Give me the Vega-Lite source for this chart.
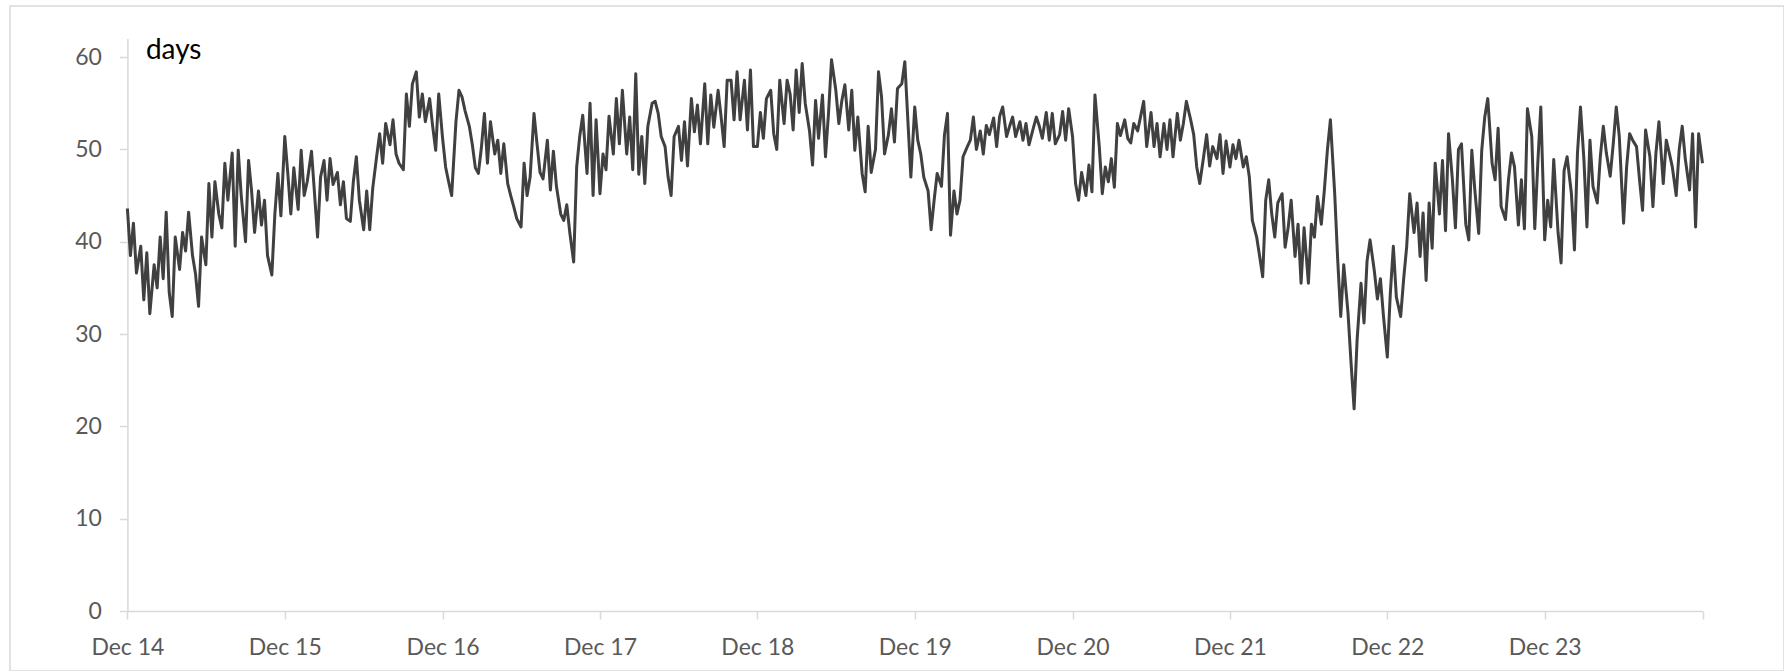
{
"$schema": "https://vega.github.io/schema/vega-lite/v6.json",
"width": 1774,
"height": 665,
"autosize": {"type": "none"},
"padding": {"left": 10, "top": 6, "right": 0, "bottom": 0},
"background": "white",
"config": {"view": {"stroke": "#d9d9d9", "strokeWidth": 1.5}, "font": "Lato"},
"data": {"values": [
{"d":"2014-12-01","v":43.6},{"d":"2014-12-08","v":38.5},{"d":"2014-12-15","v":42.0},{"d":"2014-12-22","v":36.6},
{"d":"2015-01-01","v":39.5},{"d":"2015-01-08","v":33.7},{"d":"2015-01-15","v":38.8},{"d":"2015-01-22","v":32.2},
{"d":"2015-02-01","v":37.5},{"d":"2015-02-08","v":35.0},{"d":"2015-02-15","v":40.5},{"d":"2015-02-22","v":36.0},
{"d":"2015-03-01","v":43.2},{"d":"2015-03-08","v":34.5},{"d":"2015-03-15","v":31.9},{"d":"2015-03-22","v":40.5},
{"d":"2015-04-01","v":37.0},{"d":"2015-04-08","v":41.0},{"d":"2015-04-15","v":39.0},{"d":"2015-04-22","v":43.2},
{"d":"2015-05-01","v":38.5},{"d":"2015-05-08","v":36.5},{"d":"2015-05-15","v":33.0},{"d":"2015-05-22","v":40.5},
{"d":"2015-06-01","v":37.5},{"d":"2015-06-08","v":46.3},{"d":"2015-06-15","v":40.5},{"d":"2015-06-22","v":46.5},
{"d":"2015-07-01","v":43.0},{"d":"2015-07-08","v":41.5},{"d":"2015-07-15","v":48.5},{"d":"2015-07-22","v":44.5},
{"d":"2015-08-01","v":49.6},{"d":"2015-08-08","v":39.5},{"d":"2015-08-15","v":49.9},{"d":"2015-08-22","v":45.0},
{"d":"2015-09-01","v":40.0},{"d":"2015-09-08","v":48.8},{"d":"2015-09-15","v":45.5},{"d":"2015-09-22","v":41.0},
{"d":"2015-10-01","v":45.5},{"d":"2015-10-08","v":41.8},{"d":"2015-10-15","v":44.5},{"d":"2015-10-22","v":38.5},
{"d":"2015-11-01","v":36.4},{"d":"2015-11-08","v":43.0},{"d":"2015-11-15","v":47.4},{"d":"2015-11-22","v":42.8},
{"d":"2015-12-01","v":51.4},{"d":"2015-12-08","v":47.4},{"d":"2015-12-15","v":43.0},{"d":"2015-12-22","v":48.0},
{"d":"2016-01-01","v":43.5},{"d":"2016-01-08","v":49.9},{"d":"2016-01-15","v":45.0},{"d":"2016-01-22","v":46.5},
{"d":"2016-02-01","v":49.8},{"d":"2016-02-08","v":45.2},{"d":"2016-02-15","v":40.5},{"d":"2016-02-22","v":47.0},
{"d":"2016-03-01","v":48.8},{"d":"2016-03-08","v":44.5},{"d":"2016-03-15","v":49.0},{"d":"2016-03-22","v":46.2},
{"d":"2016-04-01","v":47.5},{"d":"2016-04-08","v":44.0},{"d":"2016-04-15","v":46.5},{"d":"2016-04-22","v":42.5},
{"d":"2016-05-01","v":42.2},{"d":"2016-05-08","v":46.5},{"d":"2016-05-15","v":49.2},{"d":"2016-05-22","v":44.5},
{"d":"2016-06-01","v":41.3},{"d":"2016-06-08","v":45.5},{"d":"2016-06-15","v":41.3},{"d":"2016-06-22","v":45.8},
{"d":"2016-07-01","v":49.2},{"d":"2016-07-08","v":51.7},{"d":"2016-07-15","v":48.5},{"d":"2016-07-22","v":52.8},
{"d":"2016-08-01","v":50.5},{"d":"2016-08-08","v":53.2},{"d":"2016-08-15","v":49.5},{"d":"2016-08-22","v":48.5},
{"d":"2016-09-01","v":47.8},{"d":"2016-09-08","v":56.0},{"d":"2016-09-15","v":52.5},{"d":"2016-09-22","v":57.1},
{"d":"2016-10-01","v":58.4},{"d":"2016-10-08","v":53.5},{"d":"2016-10-15","v":56.0},{"d":"2016-10-22","v":53.0},
{"d":"2016-11-01","v":55.5},{"d":"2016-11-08","v":52.5},{"d":"2016-11-15","v":49.9},{"d":"2016-11-22","v":56.0},
{"d":"2016-12-01","v":51.2},{"d":"2016-12-08","v":48.1},{"d":"2016-12-15","v":46.5},{"d":"2016-12-22","v":45.0},
{"d":"2017-01-01","v":53.0},{"d":"2017-01-08","v":56.4},{"d":"2017-01-15","v":55.7},{"d":"2017-01-22","v":54.2},
{"d":"2017-02-01","v":52.5},{"d":"2017-02-08","v":50.5},{"d":"2017-02-15","v":48.0},{"d":"2017-02-22","v":47.4},
{"d":"2017-03-01","v":50.2},{"d":"2017-03-08","v":53.9},{"d":"2017-03-15","v":48.5},{"d":"2017-03-22","v":53.0},
{"d":"2017-04-01","v":49.5},{"d":"2017-04-08","v":51.0},{"d":"2017-04-15","v":47.4},{"d":"2017-04-22","v":50.6},
{"d":"2017-05-01","v":46.3},{"d":"2017-05-08","v":45.0},{"d":"2017-05-15","v":43.8},{"d":"2017-05-22","v":42.5},
{"d":"2017-06-01","v":41.6},{"d":"2017-06-08","v":48.5},{"d":"2017-06-15","v":45.0},{"d":"2017-06-22","v":47.0},
{"d":"2017-07-01","v":53.9},{"d":"2017-07-08","v":50.6},{"d":"2017-07-15","v":47.5},{"d":"2017-07-22","v":46.8},
{"d":"2017-08-01","v":51.0},{"d":"2017-08-08","v":45.6},{"d":"2017-08-15","v":49.8},{"d":"2017-08-22","v":46.0},
{"d":"2017-09-01","v":43.0},{"d":"2017-09-08","v":42.3},{"d":"2017-09-15","v":44.0},{"d":"2017-09-22","v":41.0},
{"d":"2017-10-01","v":37.8},{"d":"2017-10-08","v":48.1},{"d":"2017-10-15","v":51.4},{"d":"2017-10-22","v":53.7},
{"d":"2017-11-01","v":47.4},{"d":"2017-11-08","v":55.0},{"d":"2017-11-15","v":45.0},{"d":"2017-11-22","v":53.2},
{"d":"2017-12-01","v":45.2},{"d":"2017-12-08","v":49.5},{"d":"2017-12-15","v":47.8},{"d":"2017-12-22","v":53.6},
{"d":"2018-01-01","v":49.5},{"d":"2018-01-08","v":55.5},{"d":"2018-01-15","v":50.6},{"d":"2018-01-22","v":56.4},
{"d":"2018-02-01","v":49.5},{"d":"2018-02-08","v":53.5},{"d":"2018-02-15","v":47.8},{"d":"2018-02-22","v":58.2},
{"d":"2018-03-01","v":47.3},{"d":"2018-03-08","v":51.4},{"d":"2018-03-15","v":46.3},{"d":"2018-03-22","v":52.5},
{"d":"2018-04-01","v":55.0},{"d":"2018-04-08","v":55.2},{"d":"2018-04-15","v":53.9},{"d":"2018-04-22","v":51.4},
{"d":"2018-05-01","v":50.3},{"d":"2018-05-08","v":47.0},{"d":"2018-05-15","v":45.0},{"d":"2018-05-22","v":51.4},
{"d":"2018-06-01","v":52.5},{"d":"2018-06-08","v":48.8},{"d":"2018-06-15","v":53.0},{"d":"2018-06-22","v":48.2},
{"d":"2018-07-01","v":55.5},{"d":"2018-07-08","v":51.9},{"d":"2018-07-15","v":54.8},{"d":"2018-07-22","v":50.6},
{"d":"2018-08-01","v":57.1},{"d":"2018-08-08","v":50.6},{"d":"2018-08-15","v":55.9},{"d":"2018-08-22","v":52.4},
{"d":"2018-09-01","v":56.4},{"d":"2018-09-08","v":53.5},{"d":"2018-09-15","v":50.3},{"d":"2018-09-22","v":57.5},
{"d":"2018-10-01","v":57.5},{"d":"2018-10-08","v":53.2},{"d":"2018-10-15","v":58.4},{"d":"2018-10-22","v":53.2},
{"d":"2018-11-01","v":57.5},{"d":"2018-11-08","v":52.1},{"d":"2018-11-15","v":58.6},{"d":"2018-11-22","v":50.3},
{"d":"2018-12-01","v":50.3},{"d":"2018-12-08","v":54.0},{"d":"2018-12-15","v":51.2},{"d":"2018-12-22","v":55.5},
{"d":"2019-01-01","v":56.4},{"d":"2019-01-08","v":51.7},{"d":"2019-01-15","v":50.0},{"d":"2019-01-22","v":57.5},
{"d":"2019-02-01","v":52.8},{"d":"2019-02-08","v":57.5},{"d":"2019-02-15","v":56.0},{"d":"2019-02-22","v":52.1},
{"d":"2019-03-01","v":58.6},{"d":"2019-03-08","v":54.0},{"d":"2019-03-15","v":59.3},{"d":"2019-03-22","v":55.0},
{"d":"2019-04-01","v":52.0},{"d":"2019-04-08","v":48.3},{"d":"2019-04-15","v":55.3},{"d":"2019-04-22","v":51.2},
{"d":"2019-05-01","v":55.9},{"d":"2019-05-08","v":49.2},{"d":"2019-05-15","v":53.9},{"d":"2019-05-22","v":59.7},
{"d":"2019-06-01","v":56.4},{"d":"2019-06-08","v":52.8},{"d":"2019-06-15","v":55.3},{"d":"2019-06-22","v":57.0},
{"d":"2019-07-01","v":52.1},{"d":"2019-07-08","v":56.4},{"d":"2019-07-15","v":49.9},{"d":"2019-07-22","v":53.5},
{"d":"2019-08-01","v":47.4},{"d":"2019-08-08","v":45.4},{"d":"2019-08-15","v":52.5},{"d":"2019-08-22","v":47.5},
{"d":"2019-09-01","v":50.0},{"d":"2019-09-08","v":58.4},{"d":"2019-09-15","v":55.7},{"d":"2019-09-22","v":49.5},
{"d":"2019-10-01","v":51.6},{"d":"2019-10-08","v":54.4},{"d":"2019-10-15","v":50.8},{"d":"2019-10-22","v":56.6},
{"d":"2019-11-01","v":57.1},{"d":"2019-11-08","v":59.5},{"d":"2019-11-15","v":53.2},{"d":"2019-11-22","v":47.0},
{"d":"2019-12-01","v":54.6},{"d":"2019-12-08","v":51.0},{"d":"2019-12-15","v":49.5},{"d":"2019-12-22","v":47.0},
{"d":"2020-01-01","v":45.5},{"d":"2020-01-08","v":41.3},{"d":"2020-01-15","v":44.5},{"d":"2020-01-22","v":47.4},
{"d":"2020-02-01","v":46.0},{"d":"2020-02-08","v":51.6},{"d":"2020-02-15","v":53.9},{"d":"2020-02-22","v":40.7},
{"d":"2020-03-01","v":45.5},{"d":"2020-03-08","v":43.0},{"d":"2020-03-15","v":44.5},{"d":"2020-03-22","v":49.2},
{"d":"2020-04-01","v":50.3},{"d":"2020-04-08","v":51.0},{"d":"2020-04-15","v":53.5},{"d":"2020-04-22","v":50.0},
{"d":"2020-05-01","v":52.0},{"d":"2020-05-08","v":49.5},{"d":"2020-05-15","v":52.6},{"d":"2020-05-22","v":51.6},
{"d":"2020-06-01","v":53.4},{"d":"2020-06-08","v":50.3},{"d":"2020-06-15","v":53.6},{"d":"2020-06-22","v":54.6},
{"d":"2020-07-01","v":51.4},{"d":"2020-07-08","v":52.5},{"d":"2020-07-15","v":53.5},{"d":"2020-07-22","v":51.4},
{"d":"2020-08-01","v":53.0},{"d":"2020-08-08","v":51.0},{"d":"2020-08-15","v":52.8},{"d":"2020-08-22","v":50.5},
{"d":"2020-09-01","v":52.3},{"d":"2020-09-08","v":53.5},{"d":"2020-09-15","v":52.5},{"d":"2020-09-22","v":51.2},
{"d":"2020-10-01","v":54.0},{"d":"2020-10-08","v":51.0},{"d":"2020-10-15","v":53.9},{"d":"2020-10-22","v":50.6},
{"d":"2020-11-01","v":51.6},{"d":"2020-11-08","v":54.1},{"d":"2020-11-15","v":51.0},{"d":"2020-11-22","v":54.4},
{"d":"2020-12-01","v":51.4},{"d":"2020-12-08","v":46.3},{"d":"2020-12-15","v":44.5},{"d":"2020-12-22","v":47.5},
{"d":"2021-01-01","v":45.0},{"d":"2021-01-08","v":48.3},{"d":"2021-01-15","v":45.4},{"d":"2021-01-22","v":55.9},
{"d":"2021-02-01","v":50.3},{"d":"2021-02-08","v":45.2},{"d":"2021-02-15","v":48.1},{"d":"2021-02-22","v":46.5},
{"d":"2021-03-01","v":49.0},{"d":"2021-03-08","v":45.9},{"d":"2021-03-15","v":52.8},{"d":"2021-03-22","v":51.5},
{"d":"2021-04-01","v":53.2},{"d":"2021-04-08","v":51.2},{"d":"2021-04-15","v":50.7},{"d":"2021-04-22","v":52.8},
{"d":"2021-05-01","v":52.0},{"d":"2021-05-08","v":53.6},{"d":"2021-05-15","v":55.2},{"d":"2021-05-22","v":50.3},
{"d":"2021-06-01","v":54.0},{"d":"2021-06-08","v":50.3},{"d":"2021-06-15","v":52.8},{"d":"2021-06-22","v":49.2},
{"d":"2021-07-01","v":52.8},{"d":"2021-07-08","v":50.0},{"d":"2021-07-15","v":53.2},{"d":"2021-07-22","v":49.2},
{"d":"2021-08-01","v":53.9},{"d":"2021-08-08","v":51.0},{"d":"2021-08-15","v":52.8},{"d":"2021-08-22","v":55.2},
{"d":"2021-09-01","v":53.2},{"d":"2021-09-08","v":51.6},{"d":"2021-09-15","v":48.1},{"d":"2021-09-22","v":46.3},
{"d":"2021-10-01","v":49.2},{"d":"2021-10-08","v":51.6},{"d":"2021-10-15","v":48.2},{"d":"2021-10-22","v":50.3},
{"d":"2021-11-01","v":49.0},{"d":"2021-11-08","v":51.6},{"d":"2021-11-15","v":47.4},{"d":"2021-11-22","v":50.9},
{"d":"2021-12-01","v":48.1},{"d":"2021-12-08","v":50.5},{"d":"2021-12-15","v":49.0},{"d":"2021-12-22","v":51.0},
{"d":"2022-01-01","v":48.1},{"d":"2022-01-08","v":49.2},{"d":"2022-01-15","v":47.0},{"d":"2022-01-22","v":42.3},
{"d":"2022-02-01","v":40.5},{"d":"2022-02-08","v":38.4},{"d":"2022-02-15","v":36.2},{"d":"2022-02-22","v":44.5},
{"d":"2022-03-01","v":46.7},{"d":"2022-03-08","v":43.0},{"d":"2022-03-15","v":40.5},{"d":"2022-03-22","v":44.2},
{"d":"2022-04-01","v":45.2},{"d":"2022-04-08","v":39.4},{"d":"2022-04-15","v":41.5},{"d":"2022-04-22","v":44.5},
{"d":"2022-05-01","v":38.4},{"d":"2022-05-08","v":41.9},{"d":"2022-05-15","v":35.5},{"d":"2022-05-22","v":41.5},
{"d":"2022-06-01","v":35.5},{"d":"2022-06-08","v":41.9},{"d":"2022-06-15","v":40.5},{"d":"2022-06-22","v":44.9},
{"d":"2022-07-01","v":41.9},{"d":"2022-07-08","v":45.6},{"d":"2022-07-15","v":49.9},{"d":"2022-07-22","v":53.2},
{"d":"2022-08-01","v":45.2},{"d":"2022-08-08","v":38.0},{"d":"2022-08-15","v":31.9},{"d":"2022-08-22","v":37.5},
{"d":"2022-09-01","v":32.2},{"d":"2022-09-08","v":26.8},{"d":"2022-09-15","v":21.9},{"d":"2022-09-22","v":29.4},
{"d":"2022-10-01","v":35.5},{"d":"2022-10-08","v":31.2},{"d":"2022-10-15","v":37.9},{"d":"2022-10-22","v":40.2},
{"d":"2022-11-01","v":36.8},{"d":"2022-11-08","v":33.8},{"d":"2022-11-15","v":36.0},{"d":"2022-11-22","v":32.0},
{"d":"2022-12-01","v":27.5},{"d":"2022-12-08","v":34.4},{"d":"2022-12-15","v":39.5},{"d":"2022-12-22","v":34.0},
{"d":"2023-01-01","v":31.9},{"d":"2023-01-08","v":36.0},{"d":"2023-01-15","v":39.5},{"d":"2023-01-22","v":45.2},
{"d":"2023-02-01","v":41.0},{"d":"2023-02-08","v":44.2},{"d":"2023-02-15","v":38.4},{"d":"2023-02-22","v":43.1},
{"d":"2023-03-01","v":35.8},{"d":"2023-03-08","v":44.2},{"d":"2023-03-15","v":39.3},{"d":"2023-03-22","v":48.5},
{"d":"2023-04-01","v":43.0},{"d":"2023-04-08","v":48.8},{"d":"2023-04-15","v":41.2},{"d":"2023-04-22","v":51.7},
{"d":"2023-05-01","v":46.7},{"d":"2023-05-08","v":41.5},{"d":"2023-05-15","v":50.0},{"d":"2023-05-22","v":50.6},
{"d":"2023-06-01","v":41.9},{"d":"2023-06-08","v":40.2},{"d":"2023-06-15","v":49.9},{"d":"2023-06-22","v":45.6},
{"d":"2023-07-01","v":40.9},{"d":"2023-07-08","v":49.9},{"d":"2023-07-15","v":53.5},{"d":"2023-07-22","v":55.5},
{"d":"2023-08-01","v":48.5},{"d":"2023-08-08","v":46.7},{"d":"2023-08-15","v":52.3},{"d":"2023-08-22","v":43.8},
{"d":"2023-09-01","v":42.4},{"d":"2023-09-08","v":46.7},{"d":"2023-09-15","v":49.6},{"d":"2023-09-22","v":48.1},
{"d":"2023-10-01","v":41.8},{"d":"2023-10-08","v":46.7},{"d":"2023-10-15","v":41.4},{"d":"2023-10-22","v":54.4},
{"d":"2023-11-01","v":51.4},{"d":"2023-11-08","v":41.4},{"d":"2023-11-15","v":48.5},{"d":"2023-11-22","v":54.6},
{"d":"2023-12-01","v":40.2},{"d":"2023-12-08","v":44.5},{"d":"2023-12-15","v":41.6},{"d":"2023-12-22","v":48.9},
{"d":"2024-01-01","v":41.0},{"d":"2024-01-08","v":37.7},{"d":"2024-01-15","v":47.7},{"d":"2024-01-22","v":49.2},
{"d":"2024-02-01","v":45.2},{"d":"2024-02-08","v":39.1},{"d":"2024-02-15","v":49.6},{"d":"2024-02-22","v":54.6},
{"d":"2024-03-01","v":48.9},{"d":"2024-03-08","v":41.6},{"d":"2024-03-15","v":51.0},{"d":"2024-03-22","v":46.0},
{"d":"2024-04-01","v":44.2},{"d":"2024-04-08","v":49.2},{"d":"2024-04-15","v":52.5},{"d":"2024-04-22","v":49.6},
{"d":"2024-05-01","v":47.1},{"d":"2024-05-08","v":50.6},{"d":"2024-05-15","v":54.6},{"d":"2024-05-22","v":51.4},
{"d":"2024-06-01","v":42.0},{"d":"2024-06-08","v":48.1},{"d":"2024-06-15","v":51.7},{"d":"2024-06-22","v":51.0},
{"d":"2024-07-01","v":50.3},{"d":"2024-07-08","v":46.7},{"d":"2024-07-15","v":43.4},{"d":"2024-07-22","v":52.1},
{"d":"2024-08-01","v":49.2},{"d":"2024-08-08","v":43.8},{"d":"2024-08-15","v":49.6},{"d":"2024-08-22","v":53.0},
{"d":"2024-09-01","v":46.3},{"d":"2024-09-08","v":51.0},{"d":"2024-09-15","v":49.6},{"d":"2024-09-22","v":48.1},
{"d":"2024-10-01","v":45.0},{"d":"2024-10-08","v":50.0},{"d":"2024-10-15","v":52.5},{"d":"2024-10-22","v":49.0},
{"d":"2024-11-01","v":45.6},{"d":"2024-11-08","v":51.7},{"d":"2024-11-15","v":41.6},{"d":"2024-11-22","v":51.7},
{"d":"2024-12-01","v":48.5}
]},
"mark": {"type": "line", "color": "#404040", "strokeWidth": 3, "strokeJoin": "round"},
"encoding": {
"x": {"field": "d", "type": "temporal",
"scale": {"type": "utc", "domain": [{"year": 2014, "month": 12, "date": 1, "utc": true}, {"year": 2024, "month": 12, "date": 1, "utc": true}], "range": [117.4, 1692.5]},
"axis": {"title": null, "grid": false, "offset": -60,
"values": [{"year": 2014, "month": 12, "date": 1, "utc": true}, {"year": 2015, "month": 12, "date": 1, "utc": true}, {"year": 2016, "month": 12, "date": 1, "utc": true}, {"year": 2017, "month": 12, "date": 1, "utc": true}, {"year": 2018, "month": 12, "date": 1, "utc": true}, {"year": 2019, "month": 12, "date": 1, "utc": true}, {"year": 2020, "month": 12, "date": 1, "utc": true}, {"year": 2021, "month": 12, "date": 1, "utc": true}, {"year": 2022, "month": 12, "date": 1, "utc": true}, {"year": 2023, "month": 12, "date": 1, "utc": true}, {"year": 2024, "month": 12, "date": 1, "utc": true}],
"labelExpr": "utcyear(datum.value) >= 2024 ? '' : utcFormat(datum.value, '%b %y')",
"domainColor": "#d9d9d9", "domainWidth": 1.5, "tickColor": "#d9d9d9", "tickWidth": 1.5, "tickSize": 8,
"labelFont": "Lato", "labelFontSize": 23, "labelColor": "#595959", "labelPadding": 17,
"labelFlush": false, "labelOverlap": false, "labelBound": false}},
"y": {"field": "v", "type": "quantitative",
"scale": {"domain": [0, 62], "range": [605, 32.6], "nice": false, "zero": true},
"axis": {"title": "days", "titleAngle": 0, "titleX": 18, "titleY": 52.3, "titleAlign": "left", "titleBaseline": "alphabetic",
"titleFont": "Lato", "titleFontSize": 28, "titleFontWeight": "normal", "titleColor": "#000000",
"offset": -117.4, "grid": false, "values": [0, 10, 20, 30, 40, 50, 60],
"domainColor": "#d9d9d9", "domainWidth": 1.5, "tickColor": "#d9d9d9", "tickWidth": 1.5, "tickSize": 8,
"labelFont": "Lato", "labelFontSize": 23, "labelColor": "#595959", "labelPadding": 18}}
}
}
